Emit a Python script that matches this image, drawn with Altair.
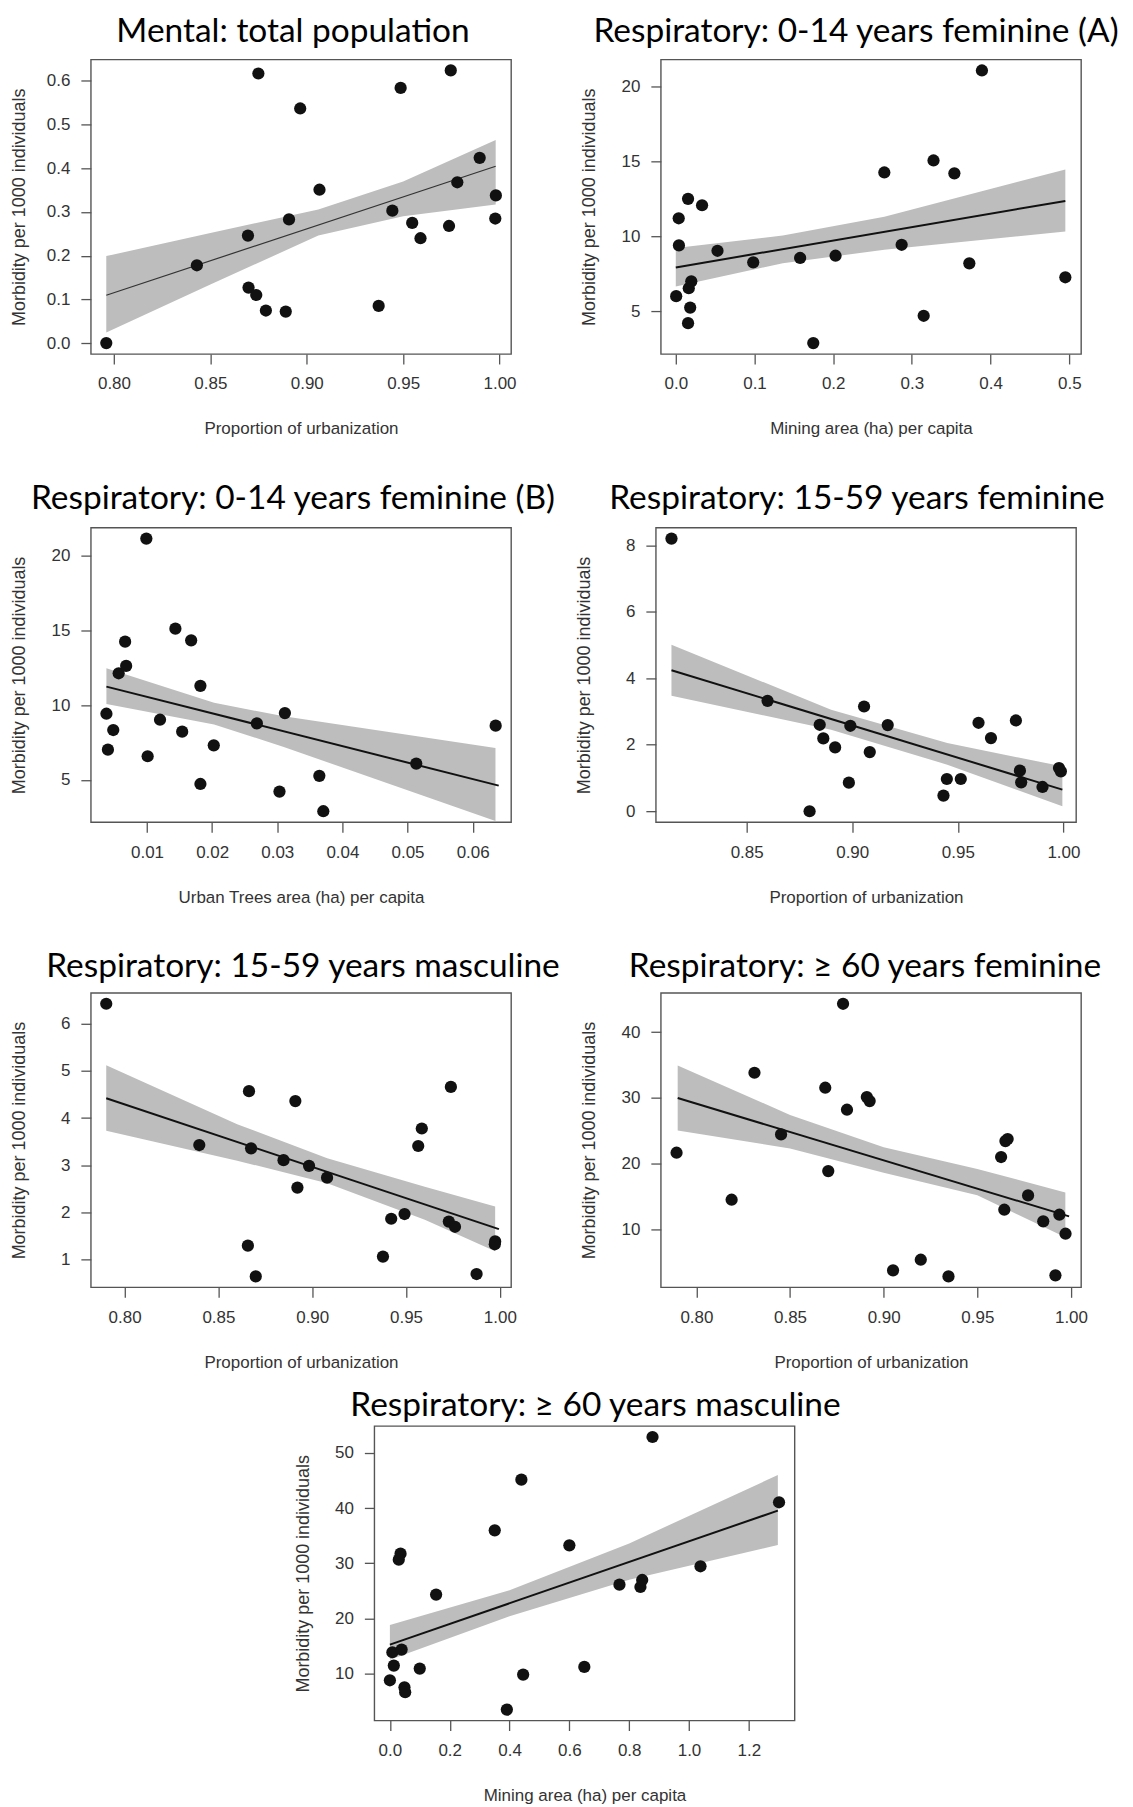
import altair as alt
import pandas as pd

# ---------------- data ----------------
# Panel 1: Mental, total population
p1_x = [0.796, 0.843, 0.8695, 0.8698, 0.8738, 0.8749, 0.8788, 0.8891, 0.8908, 0.8966, 0.9066,
        0.9373, 0.9444, 0.9487, 0.9547, 0.9590, 0.9738, 0.9747, 0.9781, 0.9897, 0.9981, 0.9978]
p1_y = [0.0, 0.178, 0.246, 0.127, 0.110, 0.617, 0.0745, 0.072, 0.283, 0.537, 0.351,
        0.085, 0.303, 0.584, 0.275, 0.240, 0.268, 0.624, 0.368, 0.424, 0.338, 0.285]
p1_line_x = [0.796, 0.998]
p1_line_y = [0.1095, 0.4046]
p1_band_x = [0.796, 0.85, 0.906, 0.950, 0.998]
p1_band_hi = [0.199, 0.252, 0.306, 0.370, 0.465]
p1_band_lo = [0.024, 0.134, 0.246, 0.290, 0.317]

# Panel 2: Respiratory 0-14 feminine (A), mining area
p2_x = [0.0005, 0.0037, 0.004, 0.0156, 0.0156, 0.0165, 0.0183, 0.0197, 0.0334, 0.053, 0.0984,
        0.158, 0.1747, 0.203, 0.265, 0.287, 0.315, 0.3275, 0.354, 0.373, 0.389, 0.495]
p2_y = [6.0, 11.2, 9.39, 12.5, 4.2, 6.53, 5.24, 6.99, 12.07, 9.03, 8.26,
        8.55, 2.87, 8.70, 14.26, 9.43, 4.69, 15.06, 14.20, 8.19, 21.07, 7.26]
p2_line_x = [0.0, 0.495]
p2_line_y = [7.92, 12.36]
p2_band_x = [0.0, 0.136, 0.265, 0.495]
p2_band_hi = [9.21, 10.05, 11.3, 14.46]
p2_band_lo = [6.64, 8.2, 9.1, 10.32]

# Panel 3: Respiratory 0-14 feminine (B), urban trees
p3_x = [0.00377, 0.0040, 0.00482, 0.00565, 0.0068, 0.00664, 0.0099, 0.0101, 0.0120, 0.01436, 0.0154,
        0.01678, 0.0182, 0.0182, 0.02025, 0.02687, 0.03034, 0.03117, 0.03646, 0.03707, 0.05134, 0.06353]
p3_y = [9.42, 7.02, 8.33, 12.12, 12.61, 14.23, 21.11, 6.58, 9.02, 15.1, 8.22,
        14.32, 11.28, 4.73, 7.31, 8.77, 4.22, 9.46, 5.27, 2.91, 6.09, 8.62]
p3_line_x = [0.00377, 0.0640]
p3_line_y = [11.23, 4.62]
p3_band_x = [0.00377, 0.0203, 0.031, 0.0635]
p3_band_hi = [12.46, 10.15, 9.25, 7.13]
p3_band_lo = [10.06, 8.7, 7.2, 2.25]

# Panel 4: Respiratory 15-59 feminine
p4_x = [0.8144, 0.8599, 0.8798, 0.8846, 0.8863, 0.8919, 0.8984, 0.8991, 0.9056, 0.9083, 0.9168,
        0.9432, 0.9448, 0.9514, 0.9598, 0.9657, 0.9775, 0.9794, 0.9800, 0.9901, 0.9979, 0.9988]
p4_y = [8.20, 3.32, 0.0, 2.60, 2.19, 1.92, 0.86, 2.57, 3.15, 1.78, 2.59,
        0.47, 0.97, 0.97, 2.66, 2.20, 2.73, 1.22, 0.87, 0.73, 1.30, 1.20]
p4_line_x = [0.8144, 0.9995]
p4_line_y = [4.24, 0.65]
p4_band_x = [0.8144, 0.89, 0.945, 0.9995]
p4_band_hi = [5.01, 3.05, 2.05, 1.35]
p4_band_lo = [3.47, 2.45, 1.4, 0.15]

# Panel 5: Respiratory 15-59 masculine
p5_x = [0.7902, 0.8398, 0.8657, 0.8663, 0.8674, 0.8699, 0.8847, 0.8910, 0.8921, 0.8983, 0.9079,
        0.9377, 0.9421, 0.9492, 0.9565, 0.9584, 0.9728, 0.9739, 0.9761, 0.9876, 0.9975, 0.9973]
p5_y = [6.42, 3.43, 1.30, 4.57, 3.36, 0.65, 3.11, 4.36, 2.53, 2.99, 2.74,
        1.07, 1.87, 1.97, 3.41, 3.78, 1.81, 4.66, 1.70, 0.70, 1.39, 1.33]
p5_line_x = [0.7902, 0.9995]
p5_line_y = [4.42, 1.65]
p5_band_x = [0.7902, 0.86, 0.908, 0.96, 0.9975]
p5_band_hi = [5.12, 3.87, 3.15, 2.55, 2.13]
p5_band_lo = [3.73, 3.1, 2.62, 1.85, 1.18]

# Panel 6: Respiratory >= 60 feminine
p6_x = [0.7894, 0.8188, 0.831, 0.8452, 0.8688, 0.8704, 0.8783, 0.8804, 0.891, 0.8925, 0.905,
        0.9198, 0.9346, 0.9627, 0.965, 0.9662, 0.9644, 0.9771, 0.9852, 0.9917, 0.9938, 0.9971]
p6_y = [21.66, 14.51, 33.82, 24.44, 31.54, 18.87, 44.31, 28.20, 30.12, 29.51, 3.77,
        5.39, 2.85, 21.0, 23.43, 23.74, 12.99, 15.17, 11.22, 3.01, 12.23, 9.34]
p6_line_x = [0.79, 0.999]
p6_line_y = [29.97, 11.98]
p6_band_x = [0.79, 0.85, 0.90, 0.95, 0.997]
p6_band_hi = [34.94, 27.4, 22.5, 19.2, 15.6]
p6_band_lo = [25.05, 22.3, 18.6, 15.2, 8.8]

# Panel 7: Respiratory >= 60 masculine
p7_x = [0.0, 0.0083, 0.0131, 0.0356, 0.0297, 0.0392, 0.0487, 0.0511, 0.0998, 0.1545, 0.3505,
        0.391, 0.4396, 0.4455, 0.6, 0.65, 0.7675, 0.8376, 0.8435, 0.878, 1.0384, 1.301]
p7_y = [8.79, 13.87, 11.45, 31.75, 30.66, 14.35, 7.52, 6.62, 10.91, 24.32, 35.98,
        3.47, 45.17, 9.82, 33.26, 11.21, 26.13, 25.71, 26.98, 52.9, 29.46, 41.06]
p7_line_x = [0.0, 1.297]
p7_line_y = [15.26, 39.55]
p7_band_x = [0.0, 0.4, 0.8, 1.297]
p7_band_hi = [18.8, 25.1, 33.6, 46.0]
p7_band_lo = [12.5, 20.4, 27.0, 33.3]

titles = [
    "Mental: total population",
    "Respiratory: 0-14 years feminine (A)",
    "Respiratory: 0-14 years feminine (B)",
    "Respiratory: 15-59 years feminine",
    "Respiratory: 15-59 years masculine",
    "Respiratory: \u2265 60 years feminine",
    "Respiratory: \u2265 60 years masculine",
]
x_titles = [
    "Proportion of urbanization",
    "Mining area (ha) per capita",
    "Urban Trees area (ha) per capita",
    "Proportion of urbanization",
    "Proportion of urbanization",
    "Proportion of urbanization",
    "Mining area (ha) per capita",
]
y_title = "Morbidity per 1000 individuals"

x_domains = [[0.788, 1.006], [-0.019, 0.515], [0.00138, 0.0659], [0.807, 1.006],
             [0.782, 1.006], [0.781, 1.0054], [-0.052, 1.353]]
y_domains = [[-0.025, 0.649], [2.14, 21.8], [2.18, 21.84], [-0.328, 8.528],
             [0.419, 6.651], [1.19, 45.97], [1.49, 54.88]]
x_ticks = [[0.80, 0.85, 0.90, 0.95, 1.00], [0.0, 0.1, 0.2, 0.3, 0.4, 0.5],
           [0.01, 0.02, 0.03, 0.04, 0.05, 0.06], [0.85, 0.90, 0.95, 1.00],
           [0.80, 0.85, 0.90, 0.95, 1.00], [0.80, 0.85, 0.90, 0.95, 1.00],
           [0.0, 0.2, 0.4, 0.6, 0.8, 1.0, 1.2]]
y_ticks = [[0.0, 0.1, 0.2, 0.3, 0.4, 0.5, 0.6], [5, 10, 15, 20], [5, 10, 15, 20],
           [0, 2, 4, 6, 8], [1, 2, 3, 4, 5, 6], [10, 20, 30, 40], [10, 20, 30, 40, 50]]
x_formats = [".2f", ".1f", ".2f", ".2f", ".2f", ".2f", ".1f"]
y_formats = [".1f", "d", "d", "d", "d", "d", "d"]

# ---------------- styling ----------------
W, H = 421, 295
TXT = "#333333"
AXF = "Liberation Sans"
title_offsets = [-15.5, -15.5, -15, -15, -18, -18, -23]
title_dx = [-8, -15, -8, -9, 2, -6, 11]
line_widths = [1.2, 2, 2, 2, 2, 2, 2]


def panel(i, xs, ys, lx, ly, bx, bhi, blo):
    pts = pd.DataFrame({"x": xs, "y": ys})
    ln = pd.DataFrame({"x": lx, "y": ly})
    bd = pd.DataFrame({"x": bx, "hi": bhi, "lo": blo})
    xscale = alt.Scale(domain=x_domains[i], nice=False, zero=False)
    yscale = alt.Scale(domain=y_domains[i], nice=False, zero=False)
    xaxis = alt.Axis(values=x_ticks[i], format=x_formats[i], title=x_titles[i], grid=False,
                     domain=False, tickSize=10, tickColor="#555555", tickWidth=1.3,
                     labelFont=AXF, labelFontSize=17, labelColor=TXT, labelPadding=12,
                     titleFont=AXF, titleFontSize=17, titleColor=TXT, titleFontWeight="normal",
                     titleY=75, titleBaseline="middle")
    yaxis = alt.Axis(values=y_ticks[i], format=y_formats[i], title=y_title, grid=False,
                     domain=False, tickSize=10, tickColor="#555555", tickWidth=1.3,
                     labelFont=AXF, labelFontSize=17, labelColor=TXT, labelPadding=11,
                     titleFont=AXF, titleFontSize=18, titleColor=TXT, titleFontWeight="normal",
                     titleX=-71, titleY=H / 2, titleAngle=270, titleAlign="center",
                     titleBaseline="middle")
    band = alt.Chart(bd).mark_area(color="#bdbdbd", opacity=1).encode(
        x=alt.X("x:Q", scale=xscale, axis=xaxis),
        y=alt.Y("lo:Q", scale=yscale, axis=yaxis),
        y2="hi:Q",
    )
    line = alt.Chart(ln).mark_line(color="#111111" if i else "#333333",
                                   strokeWidth=line_widths[i]).encode(
        x=alt.X("x:Q", scale=xscale), y=alt.Y("y:Q", scale=yscale))
    dots = alt.Chart(pts).mark_circle(color="#111111", opacity=1, size=150).encode(
        x=alt.X("x:Q", scale=xscale), y=alt.Y("y:Q", scale=yscale))
    return alt.layer(band, line, dots).properties(
        width=W, height=H,
        title=alt.TitleParams(titles[i], font="Lato", fontSize=33.5, fontWeight="normal",
                              color="black", anchor="middle", baseline="alphabetic",
                              offset=title_offsets[i], dx=title_dx[i]),
    )


def spacer(w, h):
    return alt.Chart(pd.DataFrame({"v": [0]})).mark_point(opacity=0, size=0).encode(
        x=alt.X("v:Q", axis=None), y=alt.Y("v:Q", axis=None)
    ).properties(width=w, height=h, view=alt.ViewBackground(strokeOpacity=0))


P1 = panel(0, p1_x, p1_y, p1_line_x, p1_line_y, p1_band_x, p1_band_hi, p1_band_lo)
P2 = panel(1, p2_x, p2_y, p2_line_x, p2_line_y, p2_band_x, p2_band_hi, p2_band_lo)
P3 = panel(2, p3_x, p3_y, p3_line_x, p3_line_y, p3_band_x, p3_band_hi, p3_band_lo)
P4 = panel(3, p4_x, p4_y, p4_line_x, p4_line_y, p4_band_x, p4_band_hi, p4_band_lo)
P5 = panel(4, p5_x, p5_y, p5_line_x, p5_line_y, p5_band_x, p5_band_hi, p5_band_lo)
P6 = panel(5, p6_x, p6_y, p6_line_x, p6_line_y, p6_band_x, p6_band_hi, p6_band_lo)
P7 = panel(6, p7_x, p7_y, p7_line_x, p7_line_y, p7_band_x, p7_band_hi, p7_band_lo)

row1 = alt.hconcat(P1, P2, spacing=63)
row2 = alt.hconcat(P3, P4, spacing=18)
row3 = alt.hconcat(P5, P6, spacing=19)
row4 = alt.hconcat(spacer(1, 1), P7, spacing=202)

top = alt.vconcat(row1, row2, row3, spacing=43)
chart = alt.vconcat(top, row4, spacing=16).properties(
    padding={"left": 2, "top": 4, "right": 5, "bottom": 0},
    background="white",
).configure_view(stroke="#555555", strokeWidth=1.4)

chart.save("out.html", embed_options={"renderer": "svg", "actions": False})
